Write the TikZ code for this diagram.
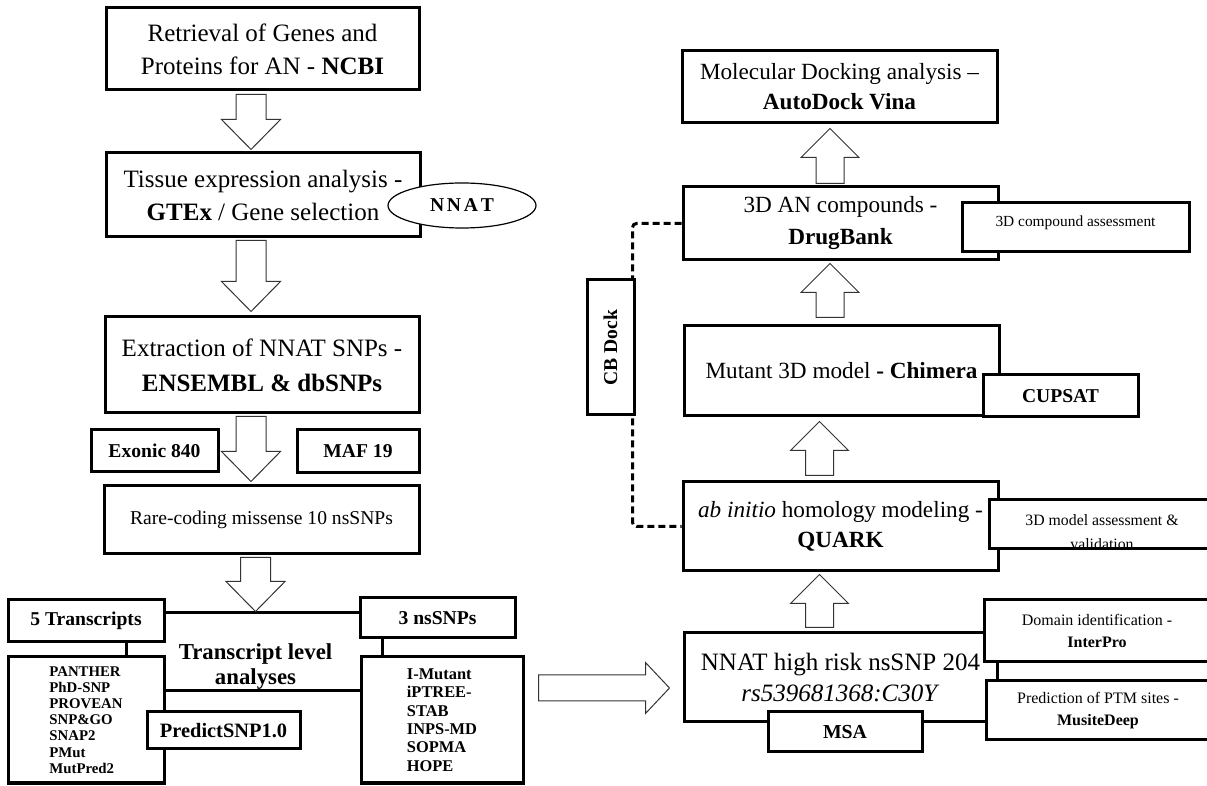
\documentclass[tikz,border=0pt]{standalone}
\usepackage{fontspec}
\setmainfont{Liberation Serif}
\usetikzlibrary{calc,shapes.geometric}

% block arrows: #1 foot of the shaft, #2 tip
\newcommand{\downblock}[2]{%
  \draw[barrow] let \p1=(#1), \p2=(#2) in
    (\x1-7.5pt,\y1) -- (\x1-7.5pt,\y2+15pt) -- (\x1-14.75pt,\y2+15pt) -- (\x1,\y2)
    -- (\x1+14.75pt,\y2+15pt) -- (\x1+7.5pt,\y2+15pt) -- (\x1+7.5pt,\y1) -- cycle;}
\newcommand{\upblock}[2]{%
  \draw[barrow] let \p1=(#1), \p2=(#2) in
    (\x1-7pt,\y1) -- (\x1-7pt,\y2-14.5pt) -- (\x1-14.5pt,\y2-14.5pt) -- (\x1,\y2)
    -- (\x1+14.5pt,\y2-14.5pt) -- (\x1+7pt,\y2-14.5pt) -- (\x1+7pt,\y1) -- cycle;}
\newcommand{\rightblock}[2]{%
  \draw[barrow] let \p1=(#1), \p2=(#2) in
    (\x1,\y2+6.5pt) -- (\x2-12pt,\y2+6.5pt) -- (\x2-12pt,\y2+12.75pt) -- (\x2,\y2)
    -- (\x2-12pt,\y2-12.75pt) -- (\x2-12pt,\y2-6.5pt) -- (\x1,\y2-6.5pt) -- cycle;}

\begin{document}
\begin{tikzpicture}[x=0.5pt,y=-0.5pt]
    \tikzset{%
      box/.style={draw, line width=1.5pt, fill=white, inner sep=0pt, align=center},
      sz/.style 2 args={minimum width=#1*0.5pt, minimum height=#2*0.5pt},
      big/.style={font=\fontsize{12.5pt}{16.5pt}\selectfont},
      mid/.style={font=\fontsize{11.6pt}{15pt}\selectfont},
      tag/.style={font=\fontsize{9.8pt}{11pt}\selectfont\bfseries},
      note/.style={font=\fontsize{8pt}{11pt}\selectfont},
      tools/.style={font=\fontsize{7.4pt}{8.1pt}\selectfont\bfseries, align=left},
      barrow/.style={draw=black!80, line width=0.5pt, fill=white, line join=miter},
      dashline/.style={line width=1.5pt, dash pattern=on 3.5pt off 2pt, rounded corners=2pt},
    }
    \useasboundingbox (0,0) rectangle (1207,786);

    % left column
    \node[box, sz={313}{82}, big] (ret) at (262.5,49) {Retrieval of Genes and\\Proteins for AN - \textbf{NCBI}};
    \node[box, sz={314}{84}, big] (tis) at (263,195) {Tissue expression analysis -\\\textbf{GTEx} / Gene selection};
    \node[ellipse, draw, line width=0.6pt, fill=white, sz={148}{45}, inner sep=0pt,
      font=\fontsize{9.8pt}{11pt}\selectfont\bfseries] (nnat) at (462,205.5) {N\kern1.4pt N\kern1.4pt A\kern1.4pt T};
    \node[box, sz={314}{96}, font=\fontsize{12.5pt}{17.5pt}\selectfont] (ext) at (262,365) {Extraction of NNAT SNPs -\\\textbf{ENSEMBL \& dbSNPs}};
    \node[box, sz={127}{42}, tag] (exo) at (154.5,451) {Exonic 840};
    \node[box, sz={122}{43}, tag] (maf) at (358,451.5) {MAF 19};
    \node[box, sz={315}{68}, font=\fontsize{9.8pt}{12pt}\selectfont] (rare) at (261.5,520) {Rare-coding missense 10 nsSNPs};

    \downblock{$(ret.south)+(-11.5,3)$}{$(tis.north)+(0,-2)$}
    \downblock{$(tis.south)+(-12,2)$}{$(ext.north)+(0,-4)$}
    \downblock{$(ext.south)+(-11,2)$}{$(rare.north)+(0,-3)$}

    % transcript level
    \node[draw, line width=1.5pt, sz={256}{78}, inner sep=0pt] (tla) at (254,652) {};
    \node[font=\fontsize{11.4pt}{12.5pt}\selectfont\bfseries, align=center] (tlatext) at (255.5,667) {Transcript level\\analyses};
    \node[box, sz={156}{42}, tag] (tr5) at (86,621) {5 Transcripts};
    \node[box, sz={155}{40}, tag] (ns3) at (437.5,618) {3 nsSNPs};
    \node[box, sz={156}{126}, tools] (pan) at (86,720) {PANTHER\\PhD-SNP\\PROVEAN\\SNP\&GO\\SNAP2\\PMut\\MutPred2};
    \node[box, sz={162}{126}, tools, font=\fontsize{8.2pt}{9.2pt}\selectfont\bfseries] (imut) at (442,720) {I-Mutant\\iPTREE-\\STAB\\INPS-MD\\SOPMA\\HOPE};
    \node[box, sz={153}{37}, font=\fontsize{10.2pt}{12pt}\selectfont\bfseries] (psnp) at (223.5,730.5) {PredictSNP1.0};

    \downblock{$(rare.south)+(-6,2)$}{tla.north}

    % right column
    \node[box, sz={315}{72}, mid] (dock) at (839.5,87) {Molecular Docking analysis --\\\textbf{AutoDock Vina}};
    \node[box, sz={315}{73}, font=\fontsize{11.6pt}{16pt}\selectfont] (drug) at (840.5,223.5) {3D AN compounds -\\\textbf{DrugBank}};
    \node[box, sz={227}{49}, font=\fontsize{7.7pt}{9pt}\selectfont] (cmpd) at (1075.5,227.5) {\raisebox{2.5pt}[\height][\depth]{3D compound assessment}};
    \node[box, sz={315}{90}, mid] (chim) at (841.5,371) {Mutant 3D model \textbf{- Chimera}};
    \node[box, sz={155}{42}, tag] (cups) at (1060.5,396) {CUPSAT};
    \node[box, sz={315}{89}, mid] (quark) at (840.5,526.5) {\textit{ab initio} homology modeling -\\\textbf{QUARK}};
    \node[box, sz={223}{49}] (mdl) at (1100.5,524.5) {};
    \begin{scope}
      \clip ($(mdl.south west)+(1.5,-1.5)$) rectangle (mdl.north east);
      \node[anchor=north, inner sep=0pt, align=center, font=\fontsize{7.9pt}{12pt}\selectfont] (mdltext) at (1102,514) {3D model assessment \&\\validation};
    \end{scope}

    \draw[dashline] (drug.west) -- ++(-49,0) |- (quark.west);
    \node[box, sz={135}{47}, rotate=90, tag] (cbd) at (610.5,347.5) {CB Dock};

    \node[box, sz={313}{89}, font=\fontsize{12.5pt}{15.5pt}\selectfont] (hrisk) at (840.5,677.5) {NNAT high risk nsSNP 204\\\textit{rs539681368:C30Y}};
    \node[box, sz={226}{62}, note] (dom) at (1097,631) {Domain identification -\\\textbf{InterPro}};
    \node[box, sz={224}{59}, note] (ptm) at (1098,710.5) {Prediction of PTM sites -\\\textbf{MusiteDeep}};
    \node[box, sz={154}{40}, font=\fontsize{9.9pt}{12pt}\selectfont\bfseries] (msa) at (845,732) {MSA};

    \upblock{$(drug.north)+(-10.5,-2)$}{$(dock.south)+(0,4)$}
    \upblock{$(chim.north)+(-11.5,-7)$}{$(drug.south)+(0,2)$}
    \upblock{$(quark.north)+(-21,-5)$}{$(chim.south)+(0,4)$}
    \upblock{$(hrisk.north)+(-21,-4)$}{$(quark.south)+(0,2)$}
    \rightblock{$(imut.east)+(14,0)$}{$(hrisk.west)+(-13,10.5)$}
\end{tikzpicture}
\end{document}
